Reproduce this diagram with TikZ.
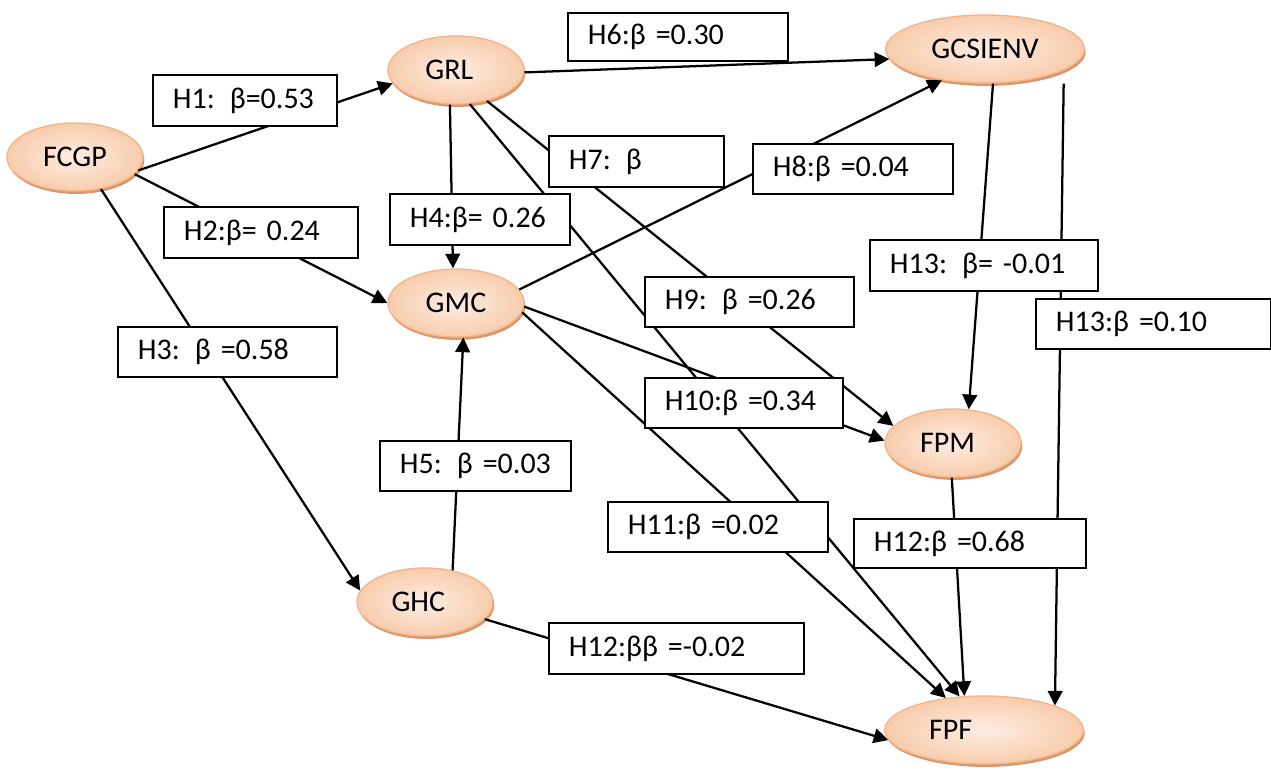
\documentclass[tikz,border=0pt]{standalone}
\usepackage{fontspec}
\setmainfont{Carlito}
\usetikzlibrary{shapes.geometric,arrows.meta,shadows}

\definecolor{peachin}{RGB}{253,237,227}
\definecolor{peachout}{RGB}{248,204,172}
\definecolor{peachline}{RGB}{244,180,134}
\definecolor{peachshadow}{RGB}{212,152,112}

\tikzset{
  construct/.style={ellipse, draw=peachline, line width=1pt,
    inner color=peachin, outer color=peachout, inner sep=0pt,
    minimum width=102pt, minimum height=51pt,
    drop shadow={shadow xshift=1pt, shadow yshift=-2.2pt, fill=peachshadow, opacity=1},
    font=\fontsize{22.5}{25}\selectfont},
  wide/.style={minimum width=149pt},
  link/.style={draw=black, line width=1.7pt, -{Triangle[length=11pt,width=11pt]}},
  hyp/.style={draw=black, line width=1.4pt, fill=white, anchor=north west,
    inner xsep=15pt, inner ysep=0pt, align=left,
    font=\fontsize{22.5}{25}\selectfont}
}

% hypothesis label box: name, left x, top y, width, height (px units), text
\newcommand{\hyplabel}[6]{%
  \pgfmathsetmacro{\hypW}{#4*0.75}%
  \pgfmathsetmacro{\hypH}{#5*0.75}%
  \pgfmathsetmacro{\hypT}{#4*0.75-30}%
  \node[hyp, minimum width=\hypW pt, minimum height=\hypH pt, text width=\hypT pt] (#1) at (#2,#3) {\raisebox{-2.5pt}{#6}};}

\begin{document}
\begin{tikzpicture}[x=0.75pt, y=-0.75pt]
  \fill[white] (0,0) rectangle (1271,769);
  \useasboundingbox (0,0) rectangle (1271,769);

  % constructs
  \node[construct] (FCGP) at (75,157) {FCGP};
  \node[construct] (GRL) at (456,70) {\hspace*{-10pt}GRL};
  \node[construct, wide] (GCSIENV) at (985,49) {GCSIENV};
  \node[construct] (GMC) at (456,303) {GMC};
  \node[construct] (FPM) at (953,443) {\hspace*{-8pt}FPM};
  \node[construct] (GHC) at (425,602) {\hspace*{-10pt}GHC};
  \node[construct, wide, label={[xshift=-25pt, font=\fontsize{22.5}{25}\selectfont]center:FPF}] (FPF) at (984,730) {};

  % paths
  \draw[link] (FCGP.-12) -- (GRL.192);
  \draw[link] (FCGP.-16) -- (GMC.180);
  \draw[link] (FCGP.-51) -- (GHC.170);
  \draw[link] (GRL.260) -- (GMC.95);
  \draw[link] (GRL.-2) -- (GCSIENV.186);
  \draw[link] (GRL.-45) -- (FPM.164);
  \draw[link] (GRL.-68) -- (FPF.126);
  \draw[link] (GMC.12) -- (GCSIENV.216);
  \draw[link] (GMC.-3) -- (FPM.178);
  \draw[link] (GMC.-8) -- (FPF.140);
  \draw[link] (GHC.49) -- (GMC.-78);
  \draw[link] (GHC.-16) -- (FPF.186);
  \draw[link] ([xshift=6pt]GCSIENV.south) -- (FPM.65);
  \draw[link] ([xshift=59pt]GCSIENV.south) -- (FPF.19);
  \draw[link] (FPM.-92) -- (FPF.120);

  % path coefficients
  \hyplabel{h6}{567}{12}{220}{48}{H6:β =0.30}
  \hyplabel{h1}{152}{74}{184}{51}{H1: β=0.53}
  \hyplabel{h7}{548}{135}{175}{51}{H7: β}
  \hyplabel{h8}{752}{143}{200}{50}{H8:β =0.04}
  \hyplabel{h2}{163}{206}{194}{51}{H2:β= 0.24}
  \hyplabel{h4}{389}{193}{180}{51}{H4:β= 0.26}
  \hyplabel{h13a}{869}{239}{228}{51}{H13: β= -0.01}
  \hyplabel{h9}{644}{276}{209}{50}{H9: β =0.26}
  \hyplabel{h13b}{1035}{298}{235}{50}{H13:β =0.10}
  \hyplabel{h3}{117}{326}{219}{50}{H3: β =0.58}
  \hyplabel{h10}{644}{377}{198}{50}{H10:β =0.34}
  \hyplabel{h5}{379}{440}{191}{50}{H5: β =0.03}
  \hyplabel{h11}{607}{501}{220}{50}{H11:β =0.02}
  \hyplabel{h12a}{853}{518}{232}{49}{H12:β =0.68}
  \hyplabel{h12b}{548}{622}{255}{51}{H12:ββ =-0.02}
\end{tikzpicture}
\end{document}
